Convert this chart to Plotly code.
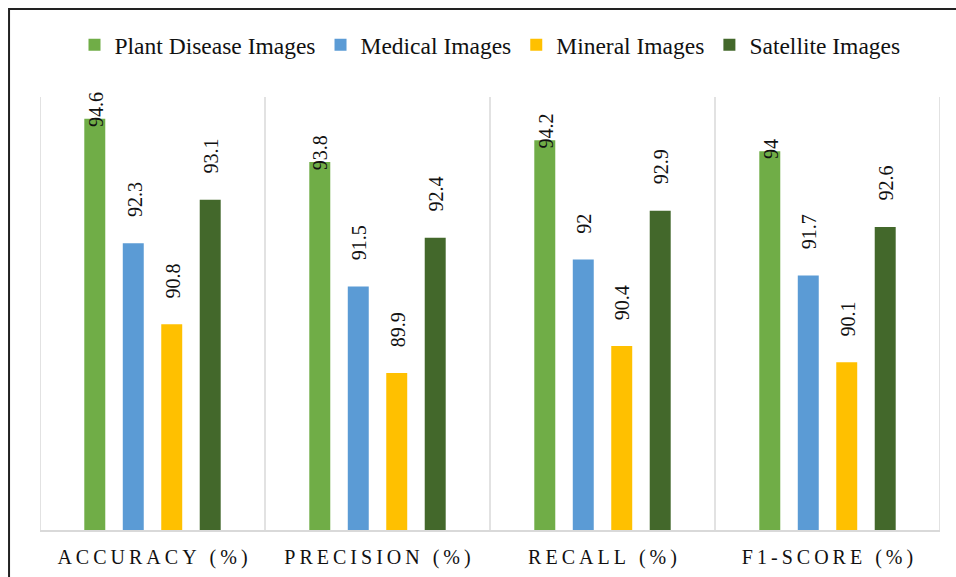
import plotly.graph_objects as go

categories = ["ACCURACY (%)", "PRECISION (%)", "RECALL (%)", "F1-SCORE (%)"]
series_names = ["Plant Disease Images", "Medical Images", "Mineral Images", "Satellite Images"]
plant = [94.6, 93.8, 94.2, 94.0]
medical = [92.3, 91.5, 92.0, 91.7]
mineral = [90.8, 89.9, 90.4, 90.1]
satellite = [93.1, 92.4, 92.9, 92.6]

series_values = [plant, medical, mineral, satellite]
colors = ["#70AD47", "#5B9BD5", "#FFC000", "#43682B"]
label_shift = [-10, 24, 24, 24]

FONT = "Liberation Serif, Times New Roman, serif"
x_idx = list(range(len(categories)))
tick_text = ["\u2009".join(list(c)) for c in categories]

fig = go.Figure()
for name, vals, col in zip(series_names, series_values, colors):
    fig.add_trace(go.Bar(x=x_idx, y=vals, name=name, marker_color=col,
                         marker_line_width=0))

# data labels (rotated) as annotations
bargap = 0.316
slot = (1 - bargap) / len(series_names)
annotations = []
for s, (vals, sh) in enumerate(zip(series_values, label_shift)):
    off = (s - (len(series_names) - 1) / 2) * slot
    for i, v in enumerate(vals):
        annotations.append(dict(x=i + off, y=v, xref="x", yref="y",
                                text=f"{v:g}", showarrow=False, textangle=-90,
                                xanchor="center", yanchor="bottom", yshift=sh,
                                xshift=1,
                                font=dict(family=FONT, size=20, color="#111")))

shapes = []
for b in [i - 0.5 for i in range(len(categories) + 1)]:
    shapes.append(dict(type="line", xref="x", yref="paper", x0=b, x1=b, y0=0, y1=1,
                       line=dict(color="#D9D9D9", width=1.5), layer="below"))
# outer border of the figure frame
shapes.append(dict(type="rect", xref="paper", yref="paper", x0=-0.0344, x1=1.2,
                   y0=-0.3, y1=1.203, line=dict(color="#222", width=2)))

fig.update_layout(
    width=956, height=577,
    margin=dict(l=40, r=16, t=97, b=47, autoexpand=False),
    paper_bgcolor="white", plot_bgcolor="white",
    barmode="group", bargap=bargap, bargroupgap=0.455,
    font=dict(family=FONT, color="#111"),
    legend=dict(orientation="h", x=0.5, xanchor="center", y=1.12, yanchor="middle",
                font=dict(family=FONT, size=23.5, color="#111"),
                itemwidth=30, tracegroupgap=0),
    annotations=annotations,
    shapes=shapes,
    xaxis=dict(tickmode="array", tickvals=x_idx, ticktext=tick_text,
               range=[-0.5, len(categories) - 0.5], automargin=False,
               showgrid=False, zeroline=False, showline=True,
               linecolor="#D9D9D9", linewidth=1.5,
               ticks="outside", ticklen=8, tickcolor="rgba(0,0,0,0)",
               tickfont=dict(family=FONT, size=20, color="#111")),
    yaxis=dict(range=[87, 95], visible=False, showgrid=False, zeroline=False,
               automargin=False),
)

fig.write_html("out.html", config={"displayModeBar": False},
               post_script="document.body.style.margin='0';document.body.style.overflow='hidden';")
